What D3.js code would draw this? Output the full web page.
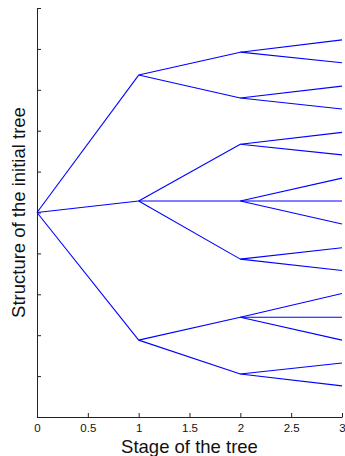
<!DOCTYPE html>
<html>
<head>
<meta charset="utf-8">
<script src="https://cdn.jsdelivr.net/npm/d3@7"></script>
<style>
  body { margin: 0; background: #fff; }
  text { font-family: "Liberation Sans", Arial, Helvetica, sans-serif; }
</style>
</head>
<body>
<div id="chart"></div>
<script>
// tree node heights per stage (y units, axis runs 0..10), parent = index in previous stage
var stage0 = [5.0];
var stage1 = [8.36, 5.28, 1.88];
var stage1Parent = [0, 0, 0];
var stage2 = [8.92, 7.80, 6.67, 5.28, 3.86, 2.44, 1.05];
var stage2Parent = [0, 0, 1, 1, 1, 2, 2];
var stage3 = [9.22, 8.66, 8.09, 7.53, 6.96, 6.41, 5.84, 5.28,
              4.72, 4.14, 3.58, 3.02, 2.44, 1.88, 1.32, 0.76];
var stage3Parent = [0, 0, 1, 1, 2, 2, 3, 3, 3, 4, 4, 5, 5, 5, 6, 6];

var xTicks = [0, 0.5, 1, 1.5, 2, 2.5, 3];
var yTicks = [0, 1, 2, 3, 4, 5, 6, 7, 8, 9, 10];

var width = 345, height = 456;
var margin = { top: 8, right: 3, bottom: 39, left: 37 };

var svg = d3.select("#chart").append("svg")
    .attr("width", width)
    .attr("height", height);

var x = d3.scaleLinear()
    .domain([0, 3])
    .range([margin.left, width - margin.right]);

var y = d3.scaleLinear()
    .domain([0, 10])
    .range([height - margin.bottom, margin.top]);

// build the edges from stage arrays
var stages = [stage0, stage1, stage2, stage3];
var parents = [null, stage1Parent, stage2Parent, stage3Parent];
var edges = [];
for (var s = 1; s < stages.length; s++) {
    stages[s].forEach(function(v, i) {
        edges.push({ x0: s - 1, y0: stages[s - 1][parents[s][i]], x1: s, y1: v });
    });
}

svg.append("g").selectAll("line")
    .data(edges)
    .enter().append("line")
    .attr("x1", function(d) { return x(d.x0); })
    .attr("y1", function(d) { return y(d.y0); })
    .attr("x2", function(d) { return x(d.x1); })
    .attr("y2", function(d) { return y(d.y1); })
    .style("stroke", "#0000ff")
    .style("stroke-width", 1.1);

// axes, ticks pointing inward
var xAxis = d3.axisBottom(x)
    .tickValues(xTicks)
    .tickSizeInner(-4)
    .tickSizeOuter(0)
    .tickPadding(7)
    .tickFormat(d3.format("~g"));

var yAxis = d3.axisLeft(y)
    .tickValues(yTicks)
    .tickSizeInner(-4)
    .tickSizeOuter(0)
    .tickFormat("");

var gx = svg.append("g")
    .attr("transform", "translate(0," + (height - margin.bottom) + ")")
    .call(xAxis);
gx.selectAll("text")
    .style("font-size", "11.5px")
    .style("fill", "#111");

var gy = svg.append("g")
    .attr("transform", "translate(" + margin.left + ",0)")
    .call(yAxis);

svg.selectAll(".domain, .tick line")
    .style("stroke", "#222")
    .style("stroke-width", 1);

svg.append("text")
    .attr("x", (x(0) + x(3)) / 2)
    .attr("y", 452.5)
    .attr("text-anchor", "middle")
    .style("font-size", "18.5px")
    .style("fill", "#111")
    .text("Stage of the tree");

svg.append("text")
    .attr("transform", "translate(25," + y(5) + ") rotate(-90)")
    .attr("text-anchor", "middle")
    .style("font-size", "18.5px")
    .style("fill", "#111")
    .text("Structure of the initial tree");
</script>
</body>
</html>
